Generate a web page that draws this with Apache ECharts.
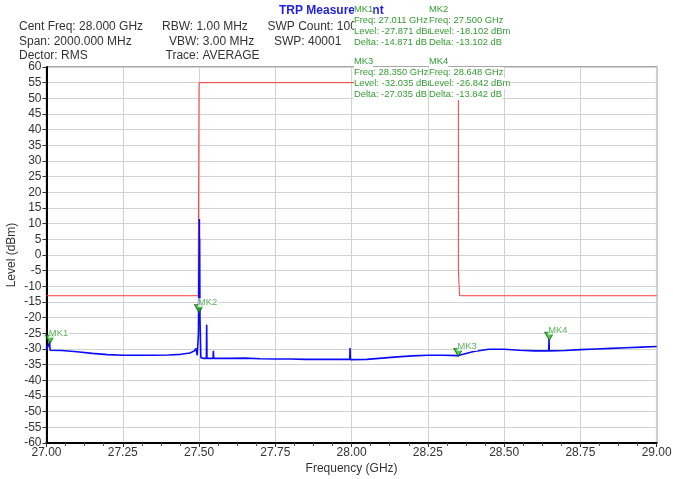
<!DOCTYPE html>
<html>
<head>
<meta charset="utf-8">
<script src="https://cdn.jsdelivr.net/npm/echarts@6/dist/echarts.min.js"></script>
<style>html,body{margin:0;padding:0;background:#fff;}#c{width:673px;height:479px;}</style>
</head>
<body>
<div id="c"></div>
<script>
// ---- data ----
const titleText = 'TRP Measurement';
const infoCol1 = ['Cent Freq: 28.000 GHz', 'Span: 2000.000 MHz', 'Dector: RMS'];
const infoCol2 = ['RBW: 1.00 MHz', 'VBW: 3.00 MHz', 'Trace: AVERAGE'];
const infoCol3 = ['SWP Count: 100', 'SWP: 40001'];

const traceFreq = [27.000, 27.005, 27.010, 27.012, 27.050, 27.100, 27.150, 27.200, 27.250, 27.300,
  27.350, 27.400, 27.440, 27.470, 27.485, 27.490, 27.494, 27.498, 27.501, 27.5015, 27.502, 27.503,
  27.506, 27.515, 27.524, 27.525, 27.526, 27.546, 27.547, 27.548, 27.600, 27.650, 27.700, 27.750,
  27.800, 27.850, 27.900, 27.950, 27.994, 27.995, 27.996, 28.050, 28.100, 28.150, 28.200, 28.250,
  28.300, 28.350, 28.400, 28.450, 28.500, 28.550, 28.600, 28.646, 28.647, 28.648, 28.700, 28.750,
  28.800, 28.850, 28.900, 28.950, 29.000];
const traceLevel = [-30.3, -30.4, -27.9, -30.4, -30.5, -30.9, -31.4, -31.8, -32.0, -32.0,
  -32.0, -31.9, -31.7, -31.3, -30.6, -29.8, -32.0, -25.0, 11.5, -12.0, 5.3, -20.0,
  -32.8, -33.0, -33.0, -22.3, -33.0, -33.0, -30.6, -33.0, -33.0, -32.9, -33.1, -33.2,
  -33.2, -33.3, -33.3, -33.3, -33.3, -29.7, -33.4, -33.3, -32.9, -32.5, -32.2, -32.0,
  -32.0, -32.1, -30.8, -30.1, -30.1, -30.4, -30.6, -30.6, -26.8, -30.6, -30.5, -30.2,
  -30.0, -29.8, -29.6, -29.4, -29.2];

const maskFreq = [27.000, 27.4975, 27.4975, 27.500, 27.500, 28.350, 28.350, 28.354, 28.354, 29.000];
const maskLevel = [-13, -13, -5, -5, 55, 55, -5, -5, -13, -13];

const markerNames = ['MK1', 'MK2', 'MK3', 'MK4'];
const markerFreq = [27.011, 27.500, 28.350, 28.648];
const markerLevel = [-27.871, -18.102, -32.035, -26.842];
const markerDelta = [-14.871, -13.102, -27.035, -13.842];

// ---- chart ----
const chart = echarts.init(document.getElementById('c'), null, {renderer: 'canvas'});
const sans = '"Liberation Sans", Arial, sans-serif';
const green = '#339c33';
const greenFont = '9.4px "Liberation Sans", Arial, sans-serif';

const graphics = [];
graphics.push({type: 'text', x: 279, y: 11, z: 10, style: {text: titleText, fill: '#1f1fe6',
  font: 'bold 12px ' + sans, verticalAlign: 'middle'}});
const rowsY = [27, 42, 56];
infoCol1.forEach((t, i) => graphics.push({type: 'text', x: 19, y: rowsY[i], z: 10,
  style: {text: t, fill: '#333', font: '12px ' + sans, verticalAlign: 'middle'}}));
infoCol2.forEach((t, i) => graphics.push({type: 'text', x: [162, 169, 165.5][i], y: rowsY[i], z: 10,
  style: {text: t, fill: '#333', font: '12px ' + sans, verticalAlign: 'middle'}}));
infoCol3.forEach((t, i) => graphics.push({type: 'text', x: [267.5, 274][i], y: rowsY[i], z: 10,
  style: {text: t, fill: '#333', font: '12px ' + sans, verticalAlign: 'middle'}}));

markerNames.forEach((n, i) => {
  const col = i % 2, row = Math.floor(i / 2);
  const x0 = 354 + col * 75, y0 = 3.5 + row * 52.5;
  const lines = [n,
    'Freq: ' + markerFreq[i].toFixed(3) + ' GHz',
    'Level: ' + markerLevel[i].toFixed(3) + ' dBm',
    'Delta: ' + markerDelta[i].toFixed(3) + ' dB'];
  lines.forEach((t, k) => graphics.push({type: 'text', x: x0, y: y0 + k * 11, z: 20 + i,
    style: {text: t, fill: green, font: greenFont, lineHeight: 11, backgroundColor: '#fff',
      verticalAlign: 'top'}}));
});

const axisName = {color: '#333', fontSize: 12, fontFamily: sans};
const option = {
  animation: false,
  backgroundColor: '#fff',
  grid: {left: 46.5, right: 16.3, top: 67, bottom: 36, show: true, borderColor: '#8a8a8a',
    borderWidth: 1.5, containLabel: false, outerBoundsMode: 'none'},
  xAxis: {
    type: 'value', min: 27, max: 29, interval: 0.25,
    name: 'Frequency (GHz)', nameLocation: 'middle', nameGap: 20, nameTextStyle: axisName,
    nameMoveOverlap: false,
    axisLine: {show: true, onZero: false, lineStyle: {color: '#000', width: 2}},
    axisTick: {show: true, length: 4, lineStyle: {color: '#333'}},
    minorTick: {show: true, splitNumber: 4, length: 3, lineStyle: {color: '#555'}},
    splitLine: {show: true, lineStyle: {color: '#d2d2d2', width: 1}},
    axisLabel: {color: '#333', fontSize: 12, fontFamily: sans, margin: 4,
      formatter: v => v.toFixed(2), showMinLabel: true, showMaxLabel: true}
  },
  yAxis: {
    type: 'value', min: -60, max: 60, interval: 5,
    name: 'Level (dBm)', nameLocation: 'middle', nameGap: 29, nameTextStyle: axisName,
    nameMoveOverlap: false,
    axisLine: {show: true, onZero: false, lineStyle: {color: '#000', width: 2}},
    axisTick: {show: true, length: 4, lineStyle: {color: '#333'}},
    splitLine: {show: true, lineStyle: {color: '#d2d2d2', width: 1}},
    axisLabel: {color: '#333', fontSize: 12, fontFamily: sans, margin: 5,
      showMinLabel: true, showMaxLabel: true, hideOverlap: false}
  },
  series: [
    {type: 'line', name: 'mask', data: maskFreq.map((f, i) => [f, maskLevel[i]]),
      showSymbol: false, symbol: 'none', lineStyle: {color: '#ff3b3b', width: 1}, z: 2, silent: true},
    {type: 'line', name: 'trace', data: traceFreq.map((f, i) => [f, traceLevel[i]]),
      showSymbol: false, symbol: 'none', lineStyle: {color: '#0a0aff', width: 1.6}, z: 3, silent: true},
    {type: 'scatter', name: 'markers',
      data: markerNames.map((n, i) => ({name: n, value: [markerFreq[i], markerLevel[i]]})),
      symbol: 'path://M0 0 L10 0 L5 9 Z', symbolSize: [9, 8], symbolOffset: [0, -3],
      itemStyle: {color: '#22c422', borderColor: '#145214', borderWidth: 1}, z: 5,
      label: {show: true, position: 'top', align: 'left', distance: 0, offset: [-1, 3],
        formatter: p => p.name, color: green, fontSize: 9.4, fontFamily: sans,
        backgroundColor: '#fff', padding: [0, 1, 0, 0]}}
  ],
  graphic: graphics
};
chart.setOption(option);
</script>
</body>
</html>
